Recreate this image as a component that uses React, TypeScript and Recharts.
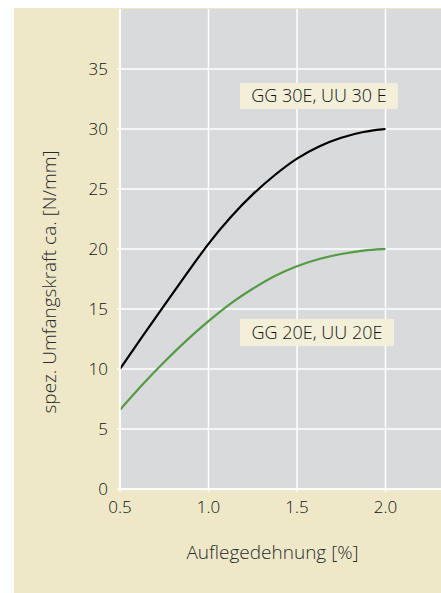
import { LineChart, Line, XAxis, YAxis, CartesianGrid, ReferenceArea, Label } from 'recharts'

const strain = [0.5, 0.625, 0.75, 0.875, 1.0, 1.125, 1.25, 1.375, 1.5, 1.625, 1.75, 1.875, 2.0]
const gg30 = [10, 12.7, 15.3, 17.9, 20.5, 22.7, 24.6, 26.2, 27.6, 28.6, 29.3, 29.8, 30]
const gg20 = [6.6, 8.7, 10.6, 12.4, 14.0, 15.5, 16.7, 17.8, 18.6, 19.2, 19.6, 19.9, 20]
const xTicks = [0.5, 1.0, 1.5, 2.0]
const yTicks = [0, 5, 10, 15, 20, 25, 30, 35]

const data = strain.map((s, i) => ({ s, gg30: gg30[i], gg20: gg20[i] }))

const FONT = '"Open Sans", sans-serif'
const BEIGE = '#eee8c8'
const BOX = '#f3efd8'
const PLOT = '#d9dadc'

function YTitle({ viewBox }: any) {
  const cx = viewBox.x + 35
  const cy = viewBox.y + viewBox.height / 2 + 33
  return (
    <text x={cx} y={cy} transform={`rotate(-90 ${cx} ${cy})`} textAnchor="middle" dominantBaseline="central"
      fontFamily={FONT} fontSize={19} fontWeight={300} fill="#2a2a2a">
      spez. Umfangskraft ca. [N/mm]
    </text>
  )
}

function XTitle({ viewBox }: any) {
  const cx = viewBox.x + viewBox.width / 2 - 8
  const cy = viewBox.y + 63
  return (
    <text x={cx} y={cy} textAnchor="middle" dominantBaseline="central" fontFamily={FONT} fontSize={19} fontWeight={300} fill="#2a2a2a">
      Auflegedehnung [%]
    </text>
  )
}

export default function App() {
  const tick = { fill: '#111', fontSize: 17, fontFamily: FONT, fontWeight: 300 }
  return (
    <div style={{ position: 'absolute', left: 14, top: 8, width: 427, height: 585, background: BEIGE }}>
      <LineChart width={427} height={585} data={data} margin={{ top: 1, right: 0, left: 0, bottom: 0 }}>
        <CartesianGrid fill={PLOT} stroke="#ffffff" strokeWidth={1.5} horizontalValues={yTicks} verticalValues={xTicks} />
        <XAxis
          type="number"
          dataKey="s"
          domain={[0.5, 2.3136]}
          ticks={xTicks}
          tickFormatter={v => v.toFixed(1)}
          height={104}
          tickSize={3}
          tickMargin={9}
          stroke="#ffffff"
          strokeWidth={1.5}
          tick={tick}
          allowDataOverflow
        >
          <Label content={<XTitle />} />
        </XAxis>
        <YAxis
          type="number"
          domain={[0, 40]}
          ticks={yTicks}
          width={106}
          tickSize={3}
          tickMargin={9}
          stroke="#ffffff"
          strokeWidth={1.5}
          tick={tick}
          allowDataOverflow
        >
          <Label content={<YTitle />} />
        </YAxis>
        <Line type="basis" dataKey="gg30" stroke="#000000" strokeWidth={2.2} dot={false} isAnimationActive={false} />
        <Line type="basis" dataKey="gg20" stroke="#559a44" strokeWidth={2.2} dot={false} isAnimationActive={false} />
        <ReferenceArea x1={1.178} x2={2.07} y1={31.67} y2={33.83} fill={BOX} fillOpacity={1} stroke="none" ifOverflow="visible">
          <Label value="GG 30E, UU 30 E" position="center" fill="#111" fontSize={18} fontFamily={FONT} fontWeight={300} />
        </ReferenceArea>
        <ReferenceArea x1={1.178} x2={2.048} y1={11.92} y2={14.17} fill={BOX} fillOpacity={1} stroke="none" ifOverflow="visible">
          <Label value="GG 20E, UU 20E" position="center" fill="#111" fontSize={18} fontFamily={FONT} fontWeight={300} />
        </ReferenceArea>
      </LineChart>
    </div>
  )
}
